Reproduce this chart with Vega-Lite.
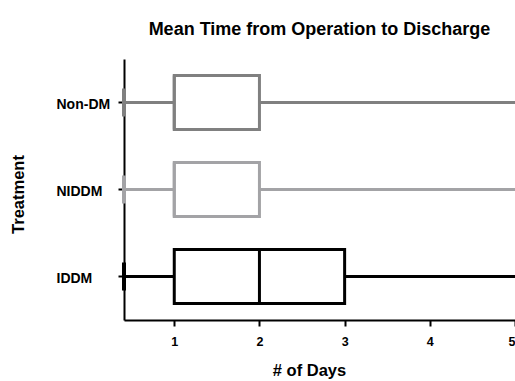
{
  "$schema": "https://vega.github.io/schema/vega-lite/v6.json",
  "width": 391,
  "height": 261,
  "autosize": "none",
  "padding": {"left": 124, "top": 59, "right": 0, "bottom": 61},
  "background": "white",
  "config": {"view": {"stroke": null}, "font": "Liberation Sans"},
  "title": {"text": "Mean Time from Operation to Discharge", "fontSize": 18, "font": "Liberation Sans", "fontWeight": "bold", "anchor": "middle", "offset": 20, "color": "black"},
  "data": {"values": [
    {"Treatment": "Non-DM", "min": 0.41, "q1": 1, "median": 1, "q3": 2, "max": 5},
    {"Treatment": "NIDDM", "min": 0.41, "q1": 1, "median": 1, "q3": 2, "max": 5},
    {"Treatment": "IDDM", "min": 0.41, "q1": 1, "median": 2, "q3": 3, "max": 5}
  ]},
  "encoding": {
    "y": {"field": "Treatment", "type": "nominal", "sort": ["Non-DM", "NIDDM", "IDDM"],
      "scale": {"paddingInner": 0, "paddingOuter": 0},
      "axis": {"title": "Treatment", "titleFontSize": 16.5, "titleFontWeight": "bold", "titleColor": "black", "titleFont": "Liberation Sans",
        "titleX": -106, "titleY": 135, "titleAlign": "center", "titleBaseline": "middle", "titleAngle": -90,
        "labelFontSize": 14, "labelFontWeight": "bold", "labelColor": "black", "labelFont": "Liberation Sans", "labelPadding": 62, "labelAlign": "left", "labelOffset": 2,
        "tickSize": 6, "tickWidth": 2, "tickColor": "black", "domainColor": "black", "domainWidth": 2, "grid": false}},
    "color": {"field": "Treatment", "type": "nominal", "legend": null,
      "scale": {"domain": ["Non-DM", "NIDDM", "IDDM"], "range": ["#808080", "#a3a3a6", "#000000"]}}
  },
  "layer": [
    {"mark": {"type": "rule", "strokeWidth": 3},
     "encoding": {"x": {"field": "min", "type": "quantitative",
        "scale": {"domain": [0.41, 5], "nice": false, "zero": false},
        "axis": {"title": "# of Days", "values": [1, 2, 3, 4, 5], "format": "d", "titleFontSize": 16.5, "titleFontWeight": "bold", "titleColor": "black", "titleFont": "Liberation Sans",
          "titleX": 185, "titleY": 55, "titleAlign": "center", "titleBaseline": "alphabetic",
          "labelFontSize": 12.5, "labelFontWeight": "bold", "labelColor": "black", "labelFont": "Liberation Sans", "labelPadding": 9.5,
          "tickSize": 6, "tickWidth": 2, "tickColor": "black", "domainColor": "black", "domainWidth": 2, "grid": false}},
       "x2": {"field": "max"}}},
    {"mark": {"type": "bar", "fill": "white", "strokeWidth": 3, "size": 54, "fillOpacity": 1},
     "encoding": {"x": {"field": "q1", "type": "quantitative"}, "x2": {"field": "q3"},
       "stroke": {"field": "Treatment", "type": "nominal", "legend": null,
         "scale": {"domain": ["Non-DM", "NIDDM", "IDDM"], "range": ["#808080", "#a3a3a6", "#000000"]}},
       "color": {"value": "white"}}},
    {"mark": {"type": "tick", "thickness": 3, "size": 54, "opacity": 1},
     "encoding": {"x": {"field": "median", "type": "quantitative"}}},
    {"mark": {"type": "tick", "thickness": 4, "size": 28, "opacity": 1},
     "encoding": {"x": {"field": "min", "type": "quantitative"}}}
  ]
}
